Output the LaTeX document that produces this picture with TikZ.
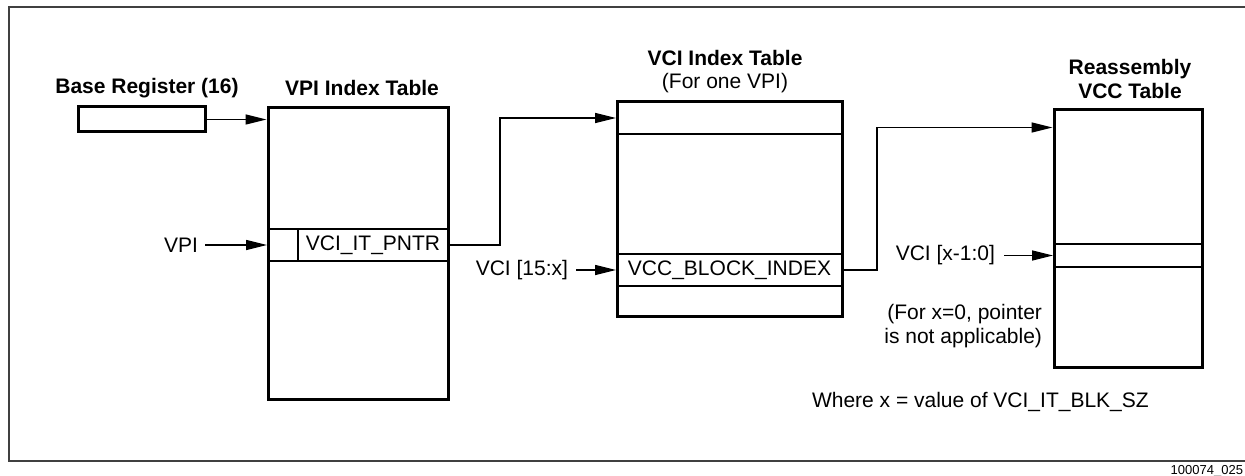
\documentclass[tikz,border=0pt]{standalone}
\usepackage{fontspec}
\setmainfont{Liberation Sans}
\usetikzlibrary{arrows.meta,positioning}

\begin{document}
\begin{tikzpicture}[x=1pt, y=-1pt,
    every node/.style={font=\fontsize{21}{24}\selectfont},
    ttl/.style={font=\fontsize{21}{24}\selectfont\bfseries, align=center},
    tbl/.style={draw, line width=3pt, inner sep=0pt},
    row/.style={draw, line width=2pt, inner sep=0pt, minimum height=32pt},
    lbl/.style={inner sep=0pt, outer sep=0pt},
    arr/.style={-{Triangle[length=21pt,width=10pt]}, line width=1.3pt}]
        \useasboundingbox (0,0) rectangle (1245,476);
        \draw [line width=1.3pt, black!75] (9,7) rectangle (1262,461);
        % VPI index table
        \node [ttl] (basettl) at (147,88) {Base Register (16)};
        \node [tbl, minimum width=127pt, minimum height=25pt] (basereg) at (141.5,119.5) {};
        \node [ttl] (vpittl) at (362,88) {VPI Index Table};
        \node [tbl, minimum width=180pt, minimum height=291pt] (vpit) at (358,253.5) {};
        \node [row, minimum width=30pt] (vpicell) at (283,245) {};
        \node [row, minimum width=150pt] (ptr) at (373,245) {VCI\_IT\_PNTR};
        \node [lbl, anchor=east] (vpilbl) at (198,245) {VPI};
        % VCI index table
        \node [ttl] (vcittl) at (725,58) {VCI Index Table};
        \node (vcisub) at (725,83) {(For one VPI)};
        \node [tbl, minimum width=225pt, minimum height=214pt] (vcit) at (729.5,209) {};
        \node [row, minimum width=225pt] (vcitop) at (729.5,118) {};
        \node [row, minimum width=225pt] (blk) at (729.5,270) {VCC\_BLOCK\_INDEX};
        \node [lbl, anchor=east] (vcilbl) at (568,270) {VCI [15:x]};
        % reassembly VCC table
        \node [ttl] (reasmttl) at (1130,79) {Reassembly\\VCC Table};
        \node [tbl, minimum width=148pt, minimum height=257pt] (reasm) at (1128,238.5) {};
        \node [row, minimum width=148pt, minimum height=23pt] (vccrow) at (1128,255.5) {};
        \node [lbl, anchor=east] (lowlbl) at (995,255) {VCI [x-1:0]};
        \node [lbl, anchor=east, align=right] (nalbl) at (1042,326) {(For x=0, pointer\\is not applicable)};
        \node [lbl, anchor=west] (wherelbl) at (812,402) {Where x = value of VCI\_IT\_BLK\_SZ};
        \node [lbl, anchor=east, font=\fontsize{13}{15}\selectfont] (figid) at (1243,471) {100074\_025};
        % pointers
        \draw [arr] (basereg.east) -- (basereg.east -| vpit.west);
        \draw [arr] ([xshift=7pt]vpicell.west -| vpilbl.east) -- (vpicell.west);
        \draw [arr] (ptr.east) -- ++(51,0) |- (vcitop.west);
        \draw [arr] ([xshift=8pt]blk.west -| vcilbl.east) -- (blk.west);
        \draw [arr] (blk.east) -- ++(34,0) |- ([yshift=-19pt]reasm.north west);
        \draw [arr] ([xshift=9pt]vccrow.west -| lowlbl.east) -- (vccrow.west);
\end{tikzpicture}
\end{document}
